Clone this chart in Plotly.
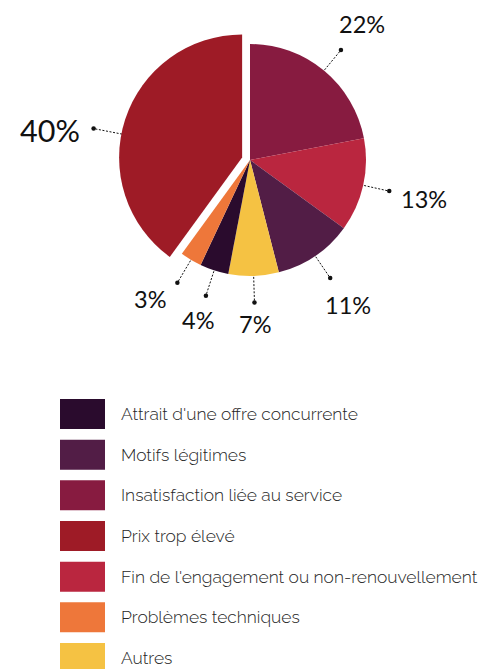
import math
import plotly.graph_objects as go

# ---- data -------------------------------------------------------------
categories = [
    "Attrait d'une offre concurrente",
    "Motifs légitimes",
    "Insatisfaction liée au service",
    "Prix trop élevé",
    "Fin de l'engagement ou non-renouvellement",
    "Problèmes techniques",
    "Autres",
]
shares = [4, 11, 22, 40, 13, 3, 7]  # percent
colors = ["#2A0B2D", "#521D46", "#871B40", "#9E1B26", "#BA263F", "#EE773A", "#F5C243"]

# clockwise order of the slices, starting at 12 o'clock
slice_order = [2, 4, 1, 6, 0, 5, 3]
highlighted = "Prix trop élevé"

# ---- layout constants --------------------------------------------------
W, H = 481, 669
CX, CY = 250, 160          # pie centre (px)
R_MAIN = 116               # radius of the regular slices
R_PULL = 123               # radius of the highlighted slice
PULL_PX = 8.3              # offset of the highlighted slice
TEXT_FONT = "Raleway, Lato, 'Open Sans', sans-serif"
NUM_FONT = "Lato, 'Open Sans', sans-serif"   # lining figures for the percentages
LEADER_ANGLE_SHIFT = {highlighted: -7}       # degrees, leader line + label
TEXT_ANGLE_SHIFT = {highlighted: -3, "Problèmes techniques": 5}  # label only

pie_labels = [categories[i] for i in slice_order]
pie_values = [shares[i] for i in slice_order]
pie_colors = [colors[i] for i in slice_order]
hl = pie_labels.index(highlighted)
transparent = "rgba(0,0,0,0)"


def domain(r):
    return dict(x=[(CX - r) / W, (CX + r) / W],
                y=[1 - (CY + r) / H, 1 - (CY - r) / H])


fig = go.Figure()

# regular slices
fig.add_trace(go.Pie(
    labels=pie_labels, values=pie_values, sort=False, direction="clockwise", rotation=0,
    marker=dict(colors=[transparent if i == hl else c for i, c in enumerate(pie_colors)],
                line=dict(width=0)),
    textinfo="none", hoverinfo="skip", showlegend=False,
    domain=domain(R_MAIN),
))

# highlighted (pulled-out, slightly larger) slice
pull = PULL_PX / R_PULL
fig.add_trace(go.Pie(
    labels=pie_labels, values=pie_values, sort=False, direction="clockwise", rotation=0,
    pull=[pull if i == hl else 0 for i in range(len(pie_values))],
    marker=dict(colors=[c if i == hl else transparent for i, c in enumerate(pie_colors)],
                line=dict(width=0)),
    textinfo="none", hoverinfo="skip", showlegend=False,
    domain=domain(R_PULL * (1 + pull)),
))

# ---- percentage labels with dotted leaders ------------------------------
total = sum(pie_values)
cum = 0.0
annotations = []
for i, (lab, val) in enumerate(zip(pie_labels, pie_values)):
    mid = (cum + val / 2) / total * 360
    cum += val
    if i == hl:
        r = R_PULL
        ox = CX + PULL_PX * math.sin(math.radians(mid))
        oy = CY - PULL_PX * math.cos(math.radians(mid))
        size = 30.5
    else:
        r = R_MAIN
        ox, oy = CX, CY
        size = 23.5
    lead = mid + LEADER_ANGLE_SHIFT.get(lab, 0)
    ang = math.radians(lead)
    s, c = math.sin(ang), math.cos(ang)
    r_in, r_out = 0.76 * r, 1.23 * r
    xs = [ox + r_in * s, ox + r_out * s]
    ys = [oy - r_in * c, oy - r_out * c]
    fig.add_trace(go.Scatter(
        x=xs, y=ys, mode="lines+markers",
        line=dict(color="#111111", width=1, dash="2px,1.6px"),
        marker=dict(color="#111111", size=4.5),
        hoverinfo="skip", showlegend=False,
    ))
    text = f"{val}%"
    tang = math.radians(lead + TEXT_ANGLE_SHIFT.get(lab, 0))
    ts, tc = math.sin(tang), math.cos(tang)
    tw = size * (0.58 * (len(text) - 1) + 0.85)
    th = size * 0.8
    r_txt = r_out + 11 + 0.5 * (abs(ts) * tw + abs(tc) * th)
    annotations.append(dict(
        x=ox + r_txt * ts, y=oy - r_txt * tc, xref="x", yref="y",
        text=text, showarrow=False, xanchor="center", yanchor="middle",
        font=dict(family=NUM_FONT, size=size, color="#111111"),
    ))

# ---- custom legend -----------------------------------------------------
shapes = []
LEG_X0, LEG_X1 = 60, 105
LEG_Y0, LEG_STEP, LEG_H = 399, 40.67, 30
for k, (name, col) in enumerate(zip(categories, colors)):
    y0 = LEG_Y0 + k * LEG_STEP
    shapes.append(dict(type="rect", xref="x", yref="y", x0=LEG_X0, x1=LEG_X1,
                       y0=y0, y1=y0 + LEG_H, fillcolor=col, line=dict(width=0), layer="above"))
    annotations.append(dict(
        x=119, y=y0 + LEG_H / 2, xref="x", yref="y", text=name, showarrow=False,
        xanchor="left", yanchor="middle",
        font=dict(family=TEXT_FONT, size=17.4, color="#262626", weight=300),
    ))

fig.update_layout(
    width=W, height=H, margin=dict(l=0, r=0, t=0, b=0),
    paper_bgcolor="white", plot_bgcolor="rgba(0,0,0,0)",
    xaxis=dict(range=[0, W], visible=False, fixedrange=True, domain=[0, 1]),
    yaxis=dict(range=[H, 0], visible=False, fixedrange=True, domain=[0, 1]),
    shapes=shapes, annotations=annotations, showlegend=False,
)

fig.write_html("out.html", config={"displayModeBar": False})
